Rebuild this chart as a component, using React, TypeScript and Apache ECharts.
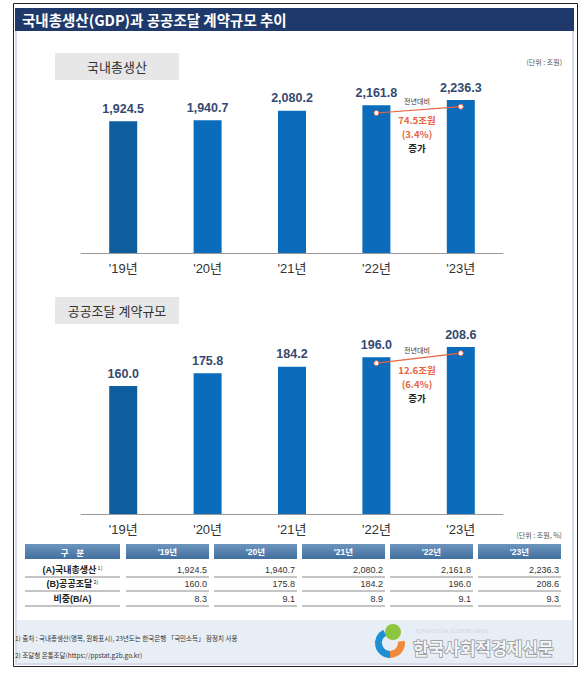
import React, { useEffect, useRef } from "react";
import * as echarts from "echarts";

// ---- data ----
const years = ["'19년", "'20년", "'21년", "'22년", "'23년"];
const gdp = [1924.5, 1940.7, 2080.2, 2161.8, 2236.3];
const procurement = [160.0, 175.8, 184.2, 196.0, 208.6];
const ratio = [8.3, 9.1, 8.9, 9.1, 9.3];
const rowLabels = ["(A)국내총생산", "(B)공공조달", "비중(B/A)"];
const rowNotes = ["1)", "2)", ""];
const gdpChangeText = ["전년대비", "74.5조원", "(3.4%)", "증가"];
const procChangeText = ["전년대비", "12.6조원", "(6.4%)", "증가"];
// anchor values (in axis units) of the year-on-year connector dots
const gdpConnector = [null, null, null, 2047, 2139];
const procConnector = [null, null, null, 188.5, 201];
const footnotes = [
  "1) 출처 : 국내총생산(명목, 원화표시), 23년도는 한국은행 「국민소득」 잠정치 사용",
  "2) 조달청 온통조달(https://ppstat.g2b.go.kr)",
];

const FONT = '"Noto Sans CJK KR", "Noto Sans", sans-serif';
const NUM_FONT = '"Liberation Sans", Arial, "Noto Sans CJK KR", sans-serif';
const BAR = "#0a6cbb";
const BAR_FIRST = "#0d5d9f";
const ORANGE = "#e8643f";

const fmt = (v: number) =>
  v.toLocaleString("en-US", { minimumFractionDigits: 1, maximumFractionDigits: 1 });

function buildGraphic() {
  const g: any[] = [];
  // outer frame
  g.push({ type: "rect", z: -10, shape: { x: 13.5, y: 3.5, width: 564, height: 663 }, style: { fill: "#fff", stroke: "#222", lineWidth: 1 } });
  // panel
  g.push({ type: "rect", z: -9, shape: { x: 16, y: 30, width: 557, height: 634 }, style: { fill: "#fff", stroke: "#d3dce8", lineWidth: 2 } });
  // footer band
  g.push({ type: "rect", z: -8, shape: { x: 17, y: 620, width: 555, height: 43 }, style: { fill: "#e8eef5" } });
  // title bar
  g.push({ type: "rect", z: -8, shape: { x: 15, y: 8, width: 559, height: 23 }, style: { fill: "#1f3a6a" } });
  g.push({ type: "text", z: 1, style: { x: 22, y: 19.5, text: "국내총생산(GDP)과 공공조달 계약규모 추이", fill: "#fff", font: `bold 14.5px ${FONT}`, textVerticalAlign: "middle" } });

  // section label boxes
  const boxes = [
    { y: 53, t: "국내총생산" },
    { y: 297, t: "공공조달 계약규모" },
  ];
  boxes.forEach((b) => {
    g.push({ type: "rect", z: -7, shape: { x: 55, y: b.y, width: 124, height: 27 }, style: { fill: "#e7e7e7" } });
    g.push({ type: "text", z: 1, style: { x: 117, y: b.y + 13.5, text: b.t, fill: "#333", font: `13px ${FONT}`, textAlign: "center", textVerticalAlign: "middle" } });
  });

  // unit labels
  g.push({ type: "text", style: { x: 562, y: 62, text: "(단위 : 조원)", fill: "#555", font: `7px ${FONT}`, textAlign: "right", textVerticalAlign: "middle" } });
  g.push({ type: "text", style: { x: 562, y: 535, text: "(단위 : 조원, %)", fill: "#555", font: `7px ${FONT}`, textAlign: "right", textVerticalAlign: "middle" } });

  // change annotations
  const ann = (txt: string[], yHead: number, yBlock: number) => {
    g.push({ type: "text", z: 10, style: { x: 417, y: yHead, text: txt[0], fill: "#333", font: `7px ${FONT}`, textAlign: "center", textVerticalAlign: "middle" } });
    g.push({
      type: "text",
      z: 10,
      style: {
        x: 417,
        y: yBlock,
        text: `{o|${txt[1]}}\n{o|${txt[2]}}\n{k|${txt[3]}}`,
        rich: {
          o: { fontFamily: FONT, fontSize: 9.5, fontWeight: "bold", fill: ORANGE, color: ORANGE, lineHeight: 14 },
          k: { fontFamily: FONT, fontSize: 9.5, fontWeight: "bold", fill: "#222", color: "#222", lineHeight: 14 },
        },
        textAlign: "center",
        textVerticalAlign: "top",
      },
    });
  };
  ann(gdpChangeText, 101, 113);
  ann(procChangeText, 350, 363);

  // table
  const col1 = { x: 25, w: 95 };
  const colStarts = [126, 214, 302, 390, 478];
  const colW = 83;
  const headTop = 544;
  const headH = 15;
  const grad = new echarts.graphic.LinearGradient(0, 0, 0, 1, [
    { offset: 0, color: "#6d94be" },
    { offset: 1, color: "#42709f" },
  ]);
  g.push({ type: "rect", z: -5, shape: { x: col1.x, y: headTop, width: col1.w, height: headH }, style: { fill: grad } });
  g.push({ type: "text", style: { x: col1.x + col1.w / 2, y: headTop + headH / 2, text: "구    분", fill: "#fff", font: `bold 8.5px ${FONT}`, textAlign: "center", textVerticalAlign: "middle" } });
  years.forEach((y, i) => {
    g.push({ type: "rect", z: -5, shape: { x: colStarts[i], y: headTop, width: colW, height: headH }, style: { fill: grad } });
    g.push({ type: "text", style: { x: colStarts[i] + colW / 2, y: headTop + headH / 2, text: y, fill: "#fff", font: `bold 8.5px ${NUM_FONT}`, textAlign: "center", textVerticalAlign: "middle" } });
  });
  const rows = [gdp, procurement, ratio];
  const rowCenters = [569.5, 584, 598.5];
  const rowLines = [577, 591, 606];
  rows.forEach((vals, r) => {
    const note = rowNotes[r];
    g.push({
      type: "text",
      style: {
        x: col1.x + col1.w / 2,
        y: rowCenters[r],
        text: note ? `{a|${rowLabels[r]}}{s| ${note}}` : `{a|${rowLabels[r]}}`,
        rich: {
          a: { fontFamily: NUM_FONT, fontSize: 9, fontWeight: "bold", fill: "#222", color: "#222" },
          s: { fontFamily: FONT, fontSize: 5.5, fill: "#333", color: "#333", verticalAlign: "top", padding: [0, 0, 4, 0] },
        },
        textAlign: "center",
        textVerticalAlign: "middle",
      },
    });
    g.push({ type: "line", shape: { x1: col1.x, y1: rowLines[r], x2: col1.x + col1.w, y2: rowLines[r] }, style: { stroke: "#8a8a8a", lineWidth: 1 } });
    vals.forEach((v, i) => {
      g.push({ type: "text", style: { x: colStarts[i] + colW - 2, y: rowCenters[r], text: fmt(v), fill: "#333", font: `9px ${NUM_FONT}`, textAlign: "right", textVerticalAlign: "middle" } });
      g.push({ type: "line", shape: { x1: colStarts[i], y1: rowLines[r], x2: colStarts[i] + colW, y2: rowLines[r] }, style: { stroke: "#8a8a8a", lineWidth: 1 } });
    });
  });

  // footnotes
  g.push({ type: "text", style: { x: 15, y: 638, text: footnotes[0], fill: "#333", font: `6.5px ${FONT}`, textVerticalAlign: "middle" } });
  g.push({ type: "text", style: { x: 15, y: 655, text: footnotes[1], fill: "#333", font: `6.5px ${FONT}`, textVerticalAlign: "middle" } });

  // logo
  g.push({ type: "sector", shape: { cx: 390, cy: 643, r: 15, r0: 8, startAngle: Math.PI * 0.5, endAngle: Math.PI * 1.35, clockwise: true }, style: { fill: "#1e8fd2" } });
  g.push({ type: "sector", shape: { cx: 390, cy: 643, r: 15, r0: 8, startAngle: -Math.PI * 0.05, endAngle: Math.PI * 0.5, clockwise: true }, style: { fill: "#f08a3a" } });
  g.push({ type: "circle", shape: { cx: 393, cy: 632, r: 8 }, style: { fill: "#8cc540" } });
  g.push({ type: "text", style: { x: 416, y: 631.5, text: "KOREA SOCIAL ECONOMY NEWS", fill: "#d0d6de", font: `4.5px ${NUM_FONT}`, textVerticalAlign: "middle" } });
  g.push({ type: "text", style: { x: 413, y: 647, text: "한국사회적경제신문", fill: "#f6f6f6", stroke: "#8e959c", lineWidth: 1.5, font: `bold 17px ${FONT}`, textVerticalAlign: "middle" } });

  return g;
}

export default function App() {
  const ref = useRef<HTMLDivElement>(null);
  useEffect(() => {
    document.body.style.margin = "0";
    if (!ref.current) return;
    const chart = echarts.init(ref.current, undefined, { renderer: "svg" });
    const barLabel = {
      show: true,
      position: "top",
      distance: 6,
      color: "#34496f",
      fontSize: 12.5,
      fontWeight: "bold",
      fontFamily: NUM_FONT,
      formatter: (p: any) => fmt(p.value),
    };
    const xAxisCommon = {
      type: "category",
      data: years,
      axisLine: { lineStyle: { color: "#9a9a9a", width: 1 } },
      axisTick: { show: false },
      axisLabel: { color: "#333", fontSize: 13, margin: 9, fontFamily: NUM_FONT },
    };
    const colored = (arr: number[]) =>
      arr.map((v, i) => ({ value: v, itemStyle: { color: i === 0 ? BAR_FIRST : BAR } }));
    const connector = (data: any[], idx: number) => ({
      type: "line",
      xAxisIndex: idx,
      yAxisIndex: idx,
      data,
      symbol: "circle",
      symbolSize: 5,
      z: 5,
      silent: true,
      itemStyle: { color: "#fff", borderColor: ORANGE, borderWidth: 1 },
      lineStyle: { color: ORANGE, width: 1.2 },
    });
    chart.setOption({
      animation: false,
      grid: [
        { left: 81, width: 422, top: 82, height: 171 },
        { left: 81, width: 422, top: 314, height: 200 },
      ],
      xAxis: [
        { gridIndex: 0, ...xAxisCommon },
        { gridIndex: 1, ...xAxisCommon },
      ],
      yAxis: [
        { gridIndex: 0, type: "value", min: 0, max: 2500, show: false },
        { gridIndex: 1, type: "value", min: 0, max: 250, show: false },
      ],
      series: [
        { type: "bar", xAxisIndex: 0, yAxisIndex: 0, barWidth: 28, data: colored(gdp), label: barLabel },
        { type: "bar", xAxisIndex: 1, yAxisIndex: 1, barWidth: 28, data: colored(procurement), label: barLabel },
        connector(gdpConnector, 0),
        connector(procConnector, 1),
      ],
      graphic: buildGraphic(),
    });
    return () => chart.dispose();
  }, []);
  return <div ref={ref} style={{ width: 586, height: 675 }} />;
}
